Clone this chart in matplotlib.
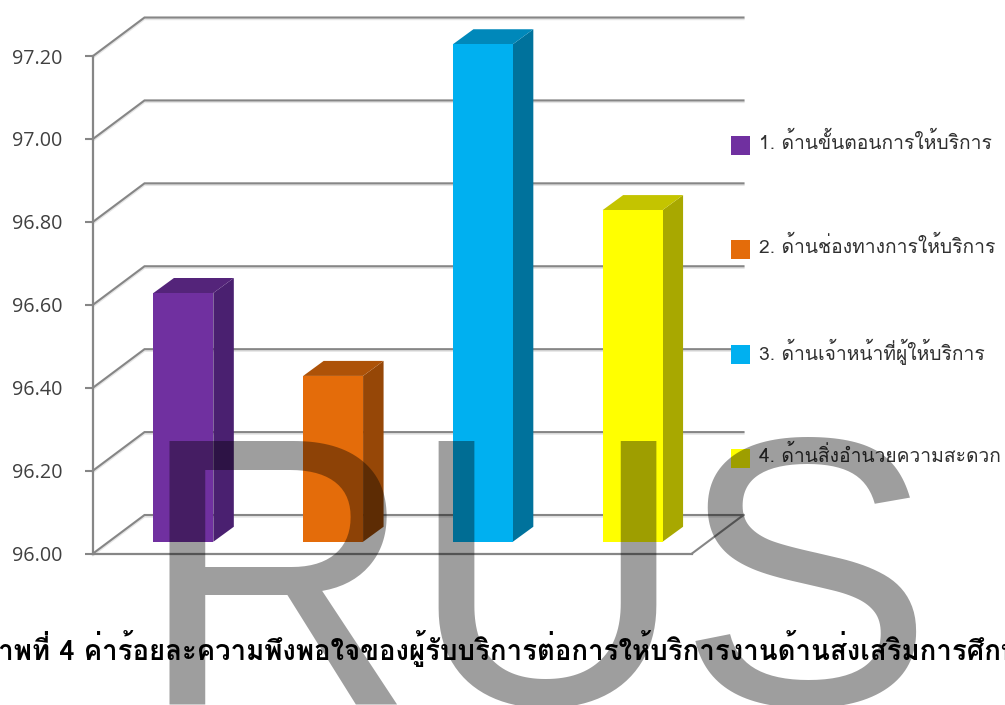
import matplotlib
matplotlib.use("Agg")
import matplotlib.pyplot as plt
from matplotlib.patches import Polygon, Rectangle
from matplotlib.transforms import Affine2D

# Satisfaction percentage per service aspect
categories = [
    "1. ด้านขั้นตอนการให้บริการ",
    "2. ด้านช่องทางการให้บริการ",
    "3. ด้านเจ้าหน้าที่ผู้ให้บริการ",
    "4. ด้านสิ่งอำนวยความสะดวก",
]
values = [96.6, 96.4, 97.2, 96.8]
y_ticks = [96.0, 96.2, 96.4, 96.6, 96.8, 97.0, 97.2]
y_tick_labels = ["96.00", "96.20", "96.40", "96.60", "96.80", "97.00", "97.20"]
front_colors = ["#7030A0", "#E46C0A", "#00B0F0", "#FFFF00"]
side_colors = ["#4A2070", "#964707", "#00729C", "#A8A800"]
top_colors = ["#54247A", "#AD5208", "#0088BA", "#C4C400"]
title = "ภาพที่ 4 ค่าร้อยละความพึงพอใจของผู้รับบริการต่อการให้บริการงานด้านส่งเสริมการศึกษา"
watermark = "RUS"
watermark_centers = [276, 547, 805]

W, H = 1005, 705
THAI_FONT = ["Loma", "Sarabun", "DejaVu Sans"]
GRID = "#868686"
TEXT = "#404040"

fig = plt.figure(figsize=(W / 100, H / 100), dpi=100)
ax = fig.add_axes([93 / W, 1 - 553.5 / H, 599 / W, 497.5 / H])
ax.set_xlim(0, len(values))
ax.set_ylim(y_ticks[0], y_ticks[-1])
ax.patch.set_visible(False)

# Pixel size of one data unit, and the oblique depth of the floor in pixels
ux = 599 / len(values)
uy = 497.5 / (y_ticks[-1] - y_ticks[0])
wall_dx, wall_dy = 51.5, 38.5
bar_dx, bar_dy = 20.5, 15.0
bar_width = 0.4

def shifted(dx, dy):
    return ax.transData + Affine2D().translate(dx, dy)

# Side wall and back wall gridlines, each with a faint shadow beneath it
x0, x1 = 0, len(values)
wall_x = [x0, x0 + wall_dx / ux, x1 + wall_dx / ux]
for v in y_ticks:
    wall_y = [v, v + wall_dy / uy, v + wall_dy / uy]
    ax.plot(wall_x, wall_y, color="#000000", alpha=0.10, lw=1.6, clip_on=False,
            transform=shifted(0, -1.6), zorder=1, solid_joinstyle="miter")
    ax.plot(wall_x, wall_y, color=GRID, lw=1.5, clip_on=False, zorder=2,
            solid_joinstyle="miter")

# Right edge of the floor
ax.plot([x1, x1 + wall_dx / ux], [y_ticks[0], y_ticks[0] + wall_dy / uy],
        color=GRID, lw=1.5, clip_on=False, zorder=2)

for sp in ("top", "right"):
    ax.spines[sp].set_visible(False)
for sp in ("left", "bottom"):
    ax.spines[sp].set_color(GRID)
    ax.spines[sp].set_linewidth(1.6)
    ax.spines[sp].set_zorder(3)
ax.set_xticks([])
ax.set_yticks(y_ticks)
ax.set_yticklabels(y_tick_labels, fontfamily="Open Sans", fontsize=14.2, color=TEXT)
ax.tick_params(axis="y", length=5.8, width=1.5, color=GRID, pad=16)

# Bars: front face raised to mid-depth of the floor, then the side and top faces
base_dx = (wall_dx - bar_dx) / 2
base_dy = (wall_dy - bar_dy) / 2
base = y_ticks[0]
for i, v in enumerate(values):
    xl = i + 0.5 - bar_width / 2
    xr = xl + bar_width
    t = shifted(base_dx, base_dy)
    ox, oy = bar_dx / ux, bar_dy / uy
    ax.add_patch(Polygon([(xr, base), (xr + ox, base + oy), (xr + ox, v + oy), (xr, v)],
                         closed=True, fc=side_colors[i], ec="none", transform=t,
                         clip_on=False, zorder=4))
    ax.add_patch(Polygon([(xl, v), (xl + ox, v + oy), (xr + ox, v + oy), (xr, v)],
                         closed=True, fc=top_colors[i], ec="none", transform=t,
                         clip_on=False, zorder=4))
    ax.bar(i + 0.5, v - base, bottom=base, width=bar_width, color=front_colors[i],
           transform=t, clip_on=False, zorder=5)

# Legend placed by hand in figure pixels
legend_y = [145.5, 249.5, 354.5, 458.5]
for label, color, yc in zip(categories, front_colors, legend_y):
    fig.add_artist(Rectangle((731 / W, 1 - (yc + 9.5) / H), 19 / W, 19 / H,
                             transform=fig.transFigure, fc=color, ec="none", zorder=6))
    fig.text(758.5 / W, 1 - (yc - 3) / H, label, family=THAI_FONT, fontsize=13.85,
             color="#303030", ha="left", va="center", zorder=6)

# Caption runs past both edges of the page
fig.text(-20 / W, 1 - 660 / H, title, family=THAI_FONT, fontsize=19.9, fontweight="bold",
         color="#000000", ha="left", va="baseline", zorder=7)

# Translucent watermark over everything, letter by letter
for letter, xc in zip(watermark, watermark_centers):
    fig.text(xc / W, 1 - 704 / H, letter, family="Liberation Sans", fontsize=276,
             color="#000000", alpha=0.38, ha="center", va="baseline", zorder=8)

fig.savefig("out.png", dpi=100)
